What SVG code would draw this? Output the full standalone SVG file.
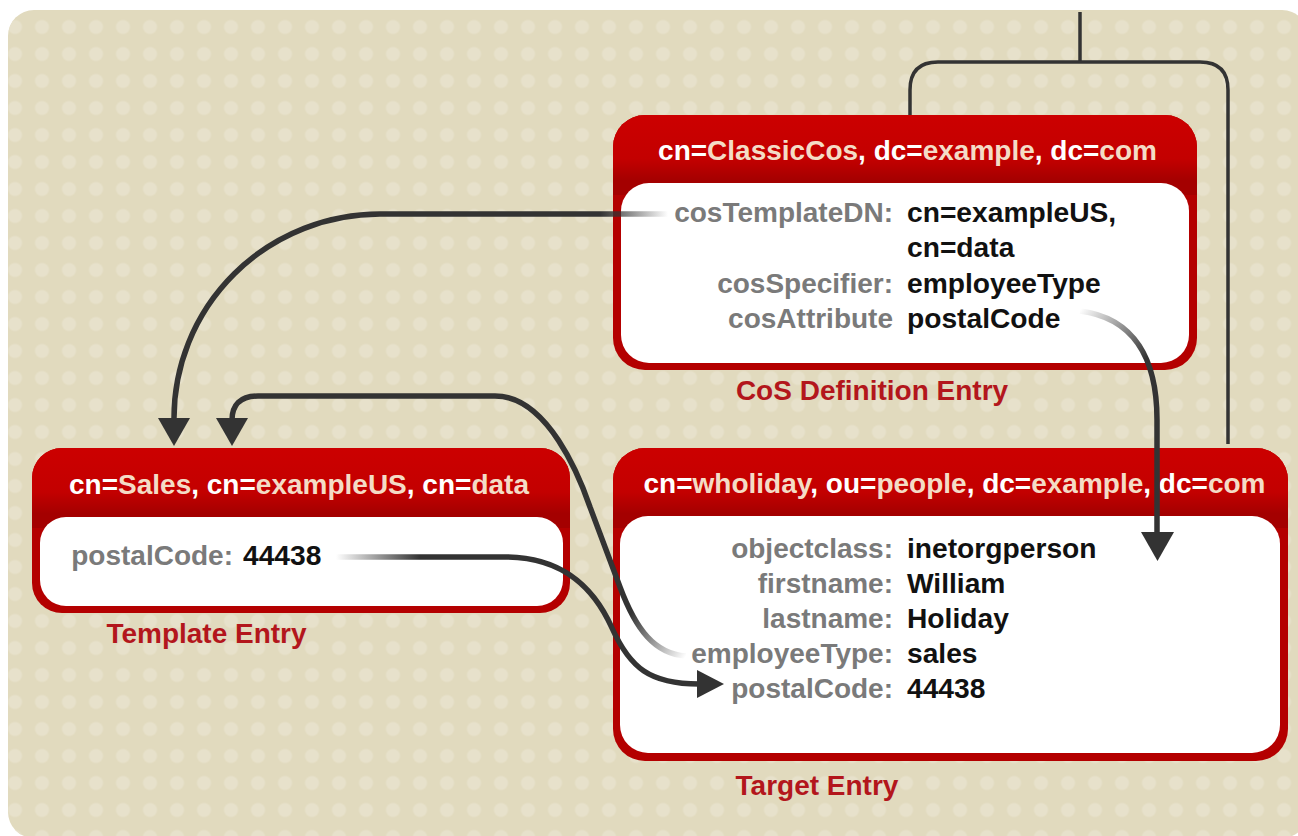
<svg xmlns="http://www.w3.org/2000/svg" width="1298" height="836" viewBox="0 0 1298 836">
<defs>
<style>
.hk{font-family:"Liberation Sans",Arial,sans-serif;font-weight:bold;font-size:28px;fill:#ffffff}
.hv{fill:#f4dcc6}
.k{font-family:"Liberation Sans",Arial,sans-serif;font-weight:bold;font-size:28px;fill:#7a7a7a;text-anchor:end}
.v{font-family:"Liberation Sans",Arial,sans-serif;font-weight:bold;font-size:28.2px;fill:#111111}
.cap{font-family:"Liberation Sans",Arial,sans-serif;font-weight:bold;font-size:28px;fill:#b3161c;text-anchor:middle}
.outer{fill:#b40000}
.hdr{fill:url(#hdrG)}
.body{fill:#ffffff}
.ln{fill:none;stroke-width:5.5;stroke-linecap:butt}
.br{fill:none;stroke:#333333;stroke-width:3.5}
.ah{fill:#333333}
</style>
<pattern id="dots" patternUnits="userSpaceOnUse" x="1.5" y="-13.5" width="27" height="27">
<circle cx="13.5" cy="13.5" r="7" fill="#e7e1cb"/>
</pattern>
<linearGradient id="hdrG" x1="0" y1="0" x2="0" y2="1">
<stop offset="0" stop-color="#cc0000"/>
<stop offset="0.55" stop-color="#c30000"/>
<stop offset="0.82" stop-color="#a40000"/>
<stop offset="1" stop-color="#a40000"/>
</linearGradient>
<linearGradient id="g1" gradientUnits="userSpaceOnUse" x1="668" y1="0" x2="600" y2="0">
<stop offset="0" stop-color="#333333" stop-opacity="0"/>
<stop offset="1" stop-color="#333333" stop-opacity="1"/>
</linearGradient>
<linearGradient id="g2" gradientUnits="userSpaceOnUse" x1="686" y1="656" x2="628" y2="618">
<stop offset="0" stop-color="#333333" stop-opacity="0"/>
<stop offset="1" stop-color="#333333" stop-opacity="1"/>
</linearGradient>
<linearGradient id="g3" gradientUnits="userSpaceOnUse" x1="336" y1="0" x2="420" y2="0">
<stop offset="0" stop-color="#333333" stop-opacity="0"/>
<stop offset="1" stop-color="#333333" stop-opacity="1"/>
</linearGradient>
<linearGradient id="g4" gradientUnits="userSpaceOnUse" x1="1080" y1="310" x2="1145" y2="360">
<stop offset="0" stop-color="#333333" stop-opacity="0"/>
<stop offset="1" stop-color="#333333" stop-opacity="1"/>
</linearGradient>
</defs>

<g id="background">
<rect x="0" y="0" width="1298" height="836" fill="#ffffff"/>
<rect x="8" y="10" width="1300" height="828" rx="26" fill="#e1dabe"/>
<rect x="8" y="10" width="1300" height="828" rx="26" fill="url(#dots)"/>
</g>

<g id="cos-definition">
<rect class="outer" x="613" y="115" width="584" height="255" rx="32"/>
<path class="hdr" d="M613,195 V147 A32,32 0 0 1 645,115 H1165 A32,32 0 0 1 1197,147 V195 Z"/>
<rect class="body" x="621" y="183" width="568" height="180" rx="28"/>
<text class="hk" x="907.5" y="160" text-anchor="middle">cn=<tspan class="hv">ClassicCos</tspan>, dc=<tspan class="hv">example</tspan>, dc=<tspan class="hv">com</tspan></text>
<text class="k" x="893" y="222">cosTemplateDN:</text>
<text class="v" x="907" y="222">cn=exampleUS,</text>
<text class="v" x="907" y="257">cn=data</text>
<text class="k" x="893" y="293">cosSpecifier:</text>
<text class="v" x="907" y="293">employeeType</text>
<text class="k" x="893" y="328">cosAttribute</text>
<text class="v" x="907" y="328">postalCode</text>
<text class="cap" x="872" y="400">CoS Definition Entry</text>
</g>

<g id="template-entry">
<rect class="outer" x="32" y="448" width="538" height="165" rx="30"/>
<path class="hdr" d="M32,528 V478 A30,30 0 0 1 62,448 H540 A30,30 0 0 1 570,478 V528 Z"/>
<rect class="body" x="40" y="517" width="523" height="89" rx="26"/>
<text class="hk" x="299" y="494" text-anchor="middle">cn=<tspan class="hv">Sales</tspan>, cn=<tspan class="hv">exampleUS</tspan>, cn=<tspan class="hv">data</tspan></text>
<text class="k" x="233" y="565">postalCode:</text>
<text class="v" x="243" y="565">44438</text>
<text class="cap" x="206.5" y="643">Template Entry</text>
</g>

<g id="target-entry">
<rect class="outer" x="613" y="448" width="675" height="313" rx="32"/>
<path class="hdr" d="M613,528 V480 A32,32 0 0 1 645,448 H1256 A32,32 0 0 1 1288,480 V528 Z"/>
<rect class="body" x="620" y="516" width="660" height="237" rx="28"/>
<text class="hk" x="954.5" y="493" text-anchor="middle">cn=<tspan class="hv">wholiday</tspan>, ou=<tspan class="hv">people</tspan>, dc=<tspan class="hv">example</tspan>, dc=<tspan class="hv">com</tspan></text>
<text class="k" x="893" y="558">objectclass:</text>
<text class="v" x="907" y="558">inetorgperson</text>
<text class="k" x="893" y="593">firstname:</text>
<text class="v" x="907" y="593">William</text>
<text class="k" x="893" y="628">lastname:</text>
<text class="v" x="907" y="628">Holiday</text>
<text class="k" x="893" y="663">employeeType:</text>
<text class="v" x="907" y="663">sales</text>
<text class="k" x="893" y="698">postalCode:</text>
<text class="v" x="907" y="698">44438</text>
<text class="cap" x="817" y="795">Target Entry</text>
</g>

<g id="connectors">
<path class="br" d="M1080,12 V62"/>
<path class="br" d="M910,115 V90 Q910,62 938,62 H1200 Q1228,62 1228,90 V444"/>
<path class="ln" stroke="url(#g1)" d="M668,214 H380 A206,204 0 0 0 174,418 V420"/>
<polygon class="ah" points="158,418 190,418 174,446"/>
<path class="ln" stroke="url(#g2)" d="M686,656 C655,654 636,630 620,587 L590,507 C580,478 548,396 495,396 H258 C240,396 232,405 232,420"/>
<polygon class="ah" points="216,418 248,418 232,446"/>
<path class="ln" stroke="url(#g3)" d="M336,557 H505 C565,557 595,590 612,628 C630,668 650,684 699,684"/>
<polygon class="ah" points="697,670 697,698 724,684"/>
<path class="ln" stroke="url(#g4)" d="M1080,311 C1135,318 1157,360 1157,420 V534"/>
<polygon class="ah" points="1141,532 1174,532 1157.5,561"/>
</g>
</svg>
